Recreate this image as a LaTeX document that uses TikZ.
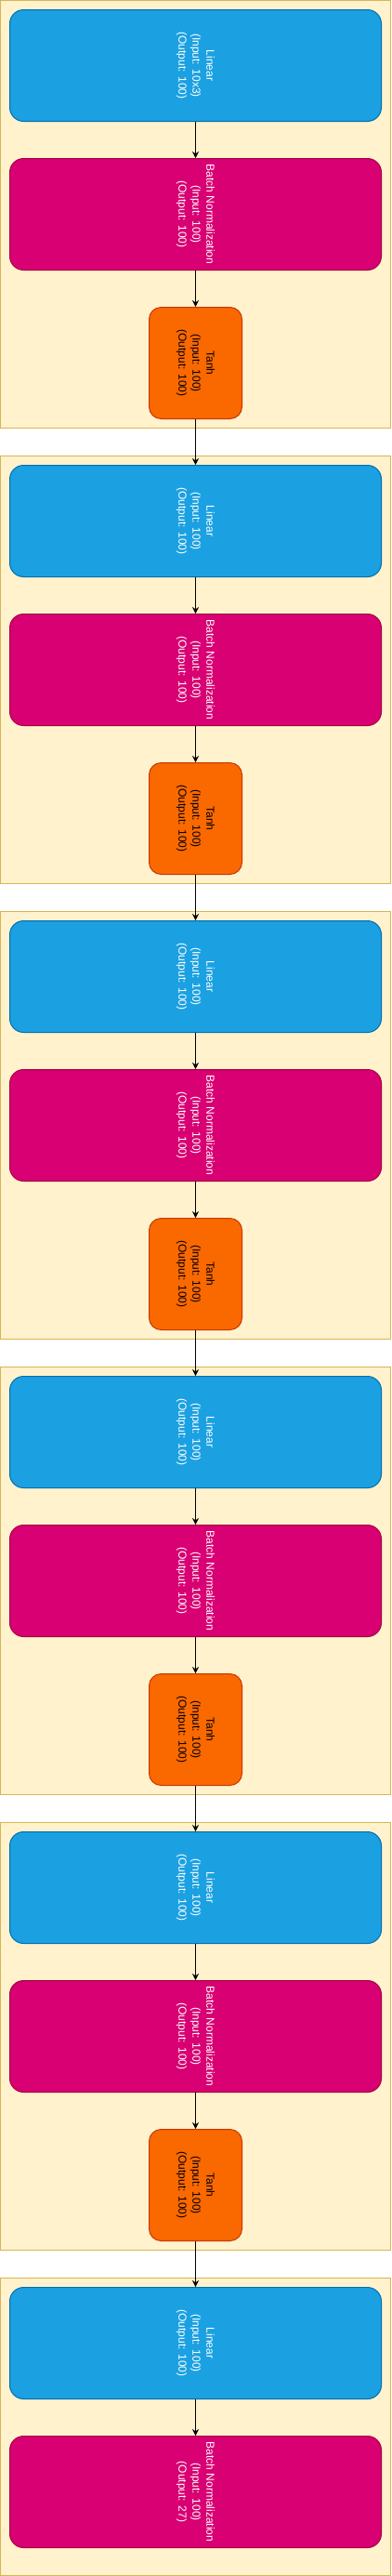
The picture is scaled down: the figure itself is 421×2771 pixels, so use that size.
\documentclass[tikz,border=0pt]{standalone}
\usepackage{fontspec}
\setmainfont{Liberation Sans}
\usetikzlibrary{arrows.meta}
\definecolor{contF}{HTML}{FFF2CC}
\definecolor{contB}{HTML}{D6B656}
\definecolor{linF}{HTML}{1BA1E2}
\definecolor{linB}{HTML}{006EAF}
\definecolor{bnF}{HTML}{D80073}
\definecolor{bnB}{HTML}{A50040}
\definecolor{thF}{HTML}{FA6800}
\definecolor{thB}{HTML}{C73500}
\begin{document}
\begin{tikzpicture}[x=1pt,y=-1pt,
  container/.style={draw=contB, fill=contF, line width=1pt},
  bigbox/.style={rectangle, rounded corners=15pt, minimum width=400pt, minimum height=120pt, inner sep=0pt, line width=1pt},
  linbox/.style={bigbox, draw=linB, fill=linF},
  bnbox/.style={bigbox, draw=bnB, fill=bnF},
  thbox/.style={rectangle, rounded corners=13pt, minimum width=100pt, minimum height=120pt, inner sep=0pt, line width=1pt, draw=thB, fill=thF},
  lbl/.style={rotate=-90, align=center, inner sep=0pt, font=\fontsize{12}{15}\selectfont},
  wlbl/.style={lbl, text=white},
  blbl/.style={lbl, text=black},
  arr/.style={-{Stealth[length=7pt,width=7pt]}, line width=1pt, draw=black}]
\useasboundingbox (0,0) rectangle (421,2771);
\foreach \k in {0,...,4}{
  \pgfmathtruncatemacro{\o}{490*\k}
  \pgfmathtruncatemacro{\n}{\k+1}
  \draw[container] (0.5,\o+0.5) rectangle (420.5,\o+460.5);
  \node[linbox] (l\n) at (210.5,\o+70.5) {};
  \node[bnbox] (b\n) at (210.5,\o+230.5) {};
  \node[thbox] (t\n) at (210.5,\o+390.5) {};
  \ifnum\k=0
    \node[wlbl] (lt\n) at (l\n.center) {Linear\\(Input: 10x3)\\(Output: 100)};
  \else
    \node[wlbl] (lt\n) at (l\n.center) {Linear\\(Input: 100)\\(Output: 100)};
  \fi
  \node[wlbl] (bt\n) at (b\n.center) {Batch Normalization\\(Input: 100)\\(Output: 100)};
  \node[blbl] (tt\n) at (t\n.center) {Tanh\\(Input: 100)\\(Output: 100)};
  \draw[arr] (l\n) -- (b\n);
  \draw[arr] (b\n) -- (t\n);
}
\draw[container] (0.5,2450.5) rectangle (420.5,2770.5);
\node[linbox] (l6) at (210.5,2520.5) {};
\node[bnbox] (b6) at (210.5,2680.5) {};
\node[wlbl] (lt6) at (l6.center) {Linear\\(Input: 100)\\(Output: 100)};
\node[wlbl] (bt6) at (b6.center) {Batch Normalization\\(Input: 100)\\(Output: 27)};
\draw[arr] (l6) -- (b6);
\foreach \a/\b in {1/2,2/3,3/4,4/5,5/6}{
  \draw[arr] (t\a) -- (l\b);
}
\end{tikzpicture}
\end{document}
